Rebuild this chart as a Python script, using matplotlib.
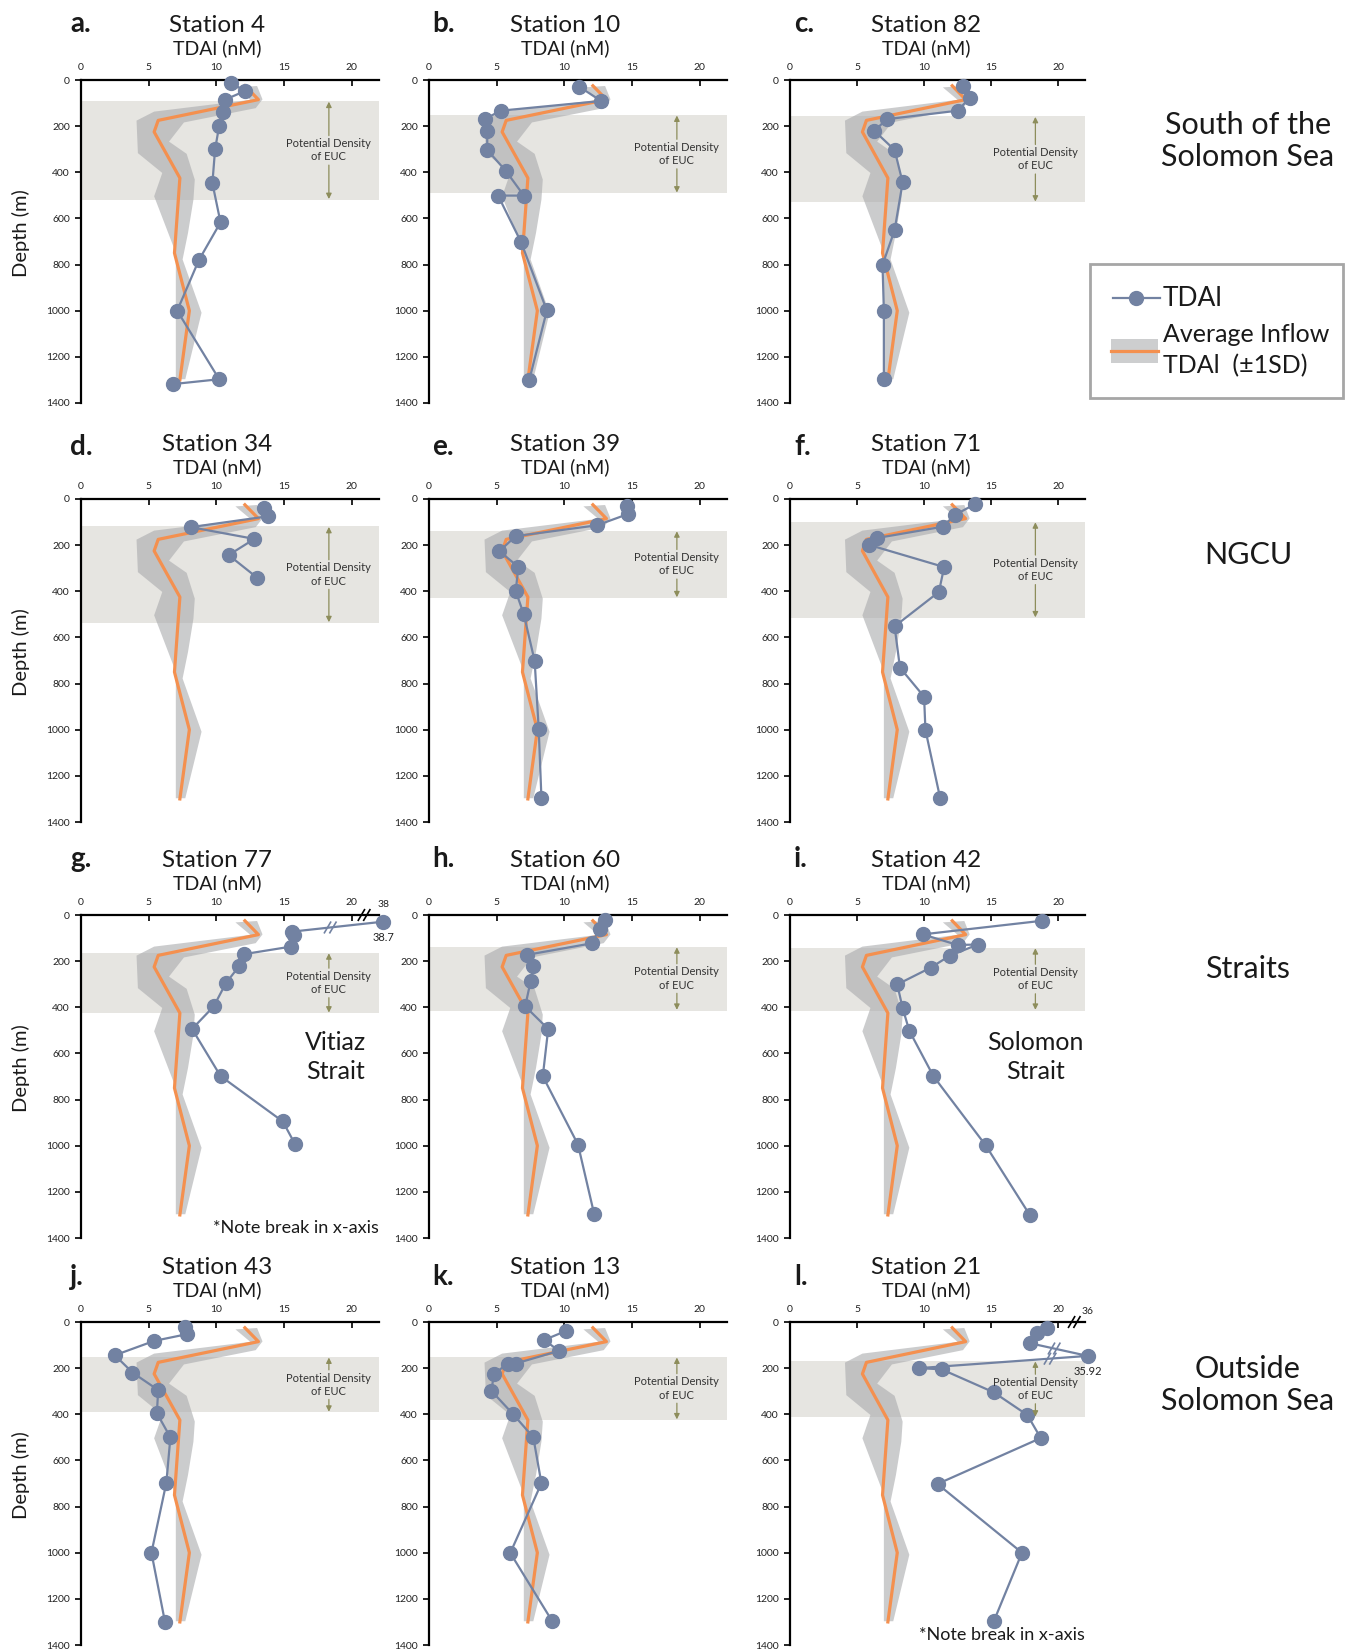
import numpy as np
import matplotlib
matplotlib.use("Agg")
import matplotlib.pyplot as plt
from matplotlib.patches import Rectangle

plt.rcParams['font.family'] = ['Lato', 'DejaVu Sans']

# average inflow TDAl (same in every panel) and its +/-1SD envelope edges
avg_depth = [25, 85, 175, 225, 425, 750, 1000, 1300]
avg_tdal = [12.1, 13.1, 5.7, 5.4, 7.3, 6.9, 8.0, 7.3]
sd_hi_depth = [26, 84, 122, 184, 267, 320, 432, 519, 663, 778, 1009, 1153, 1297]
sd_hi_tdal = [13.0, 13.4, 12.9, 7.6, 6.5, 7.8, 8.4, 8.3, 7.9, 7.5, 8.9, 8.3, 7.7]
sd_lo_depth = [32, 86, 137, 176, 317, 403, 504, 749, 1009, 1297]
sd_lo_tdal = [11.4, 12.5, 5.4, 4.1, 4.2, 6.0, 5.4, 7.0, 7.0, 7.0]

# station profiles (depth m, TDAl nM)
st4_depth = [12, 48, 86, 140, 199, 300, 447, 617, 781, 1000, 1297, 1318]
st4_tdal = [11.1, 12.1, 10.6, 10.5, 10.2, 9.9, 9.7, 10.3, 8.7, 7.1, 10.2, 6.8]
st10_depth = [29, 91, 133, 170, 220, 303, 396, 501, 501, 703, 999, 1301]
st10_tdal = [11.1, 12.7, 5.3, 4.1, 4.3, 4.3, 5.7, 7.0, 5.1, 6.8, 8.7, 7.4]
st82_depth = [25, 78, 133, 170, 221, 303, 444, 651, 801, 1000, 1294]
st82_tdal = [12.9, 13.4, 12.5, 7.2, 6.3, 7.8, 8.4, 7.8, 6.9, 7.0, 7.0]
st34_depth = [39, 75, 122, 173, 243, 341]
st34_tdal = [13.5, 13.8, 8.1, 12.8, 10.9, 13.0]
st39_depth = [29, 65, 114, 161, 226, 295, 399, 500, 702, 997, 1296]
st39_tdal = [14.6, 14.7, 12.4, 6.4, 5.2, 6.6, 6.4, 7.0, 7.8, 8.1, 8.3]
st71_depth = [22, 69, 120, 169, 199, 295, 403, 552, 731, 857, 1001, 1297]
st71_tdal = [13.8, 12.3, 11.4, 6.5, 5.9, 11.5, 11.1, 7.8, 8.2, 10.0, 10.1, 11.2]
st77_depth = [29, 72, 86, 137, 170, 220, 295, 396, 494, 698, 895, 993]
st77_tdal = [38.7, 15.6, 15.7, 15.5, 12.0, 11.7, 10.7, 9.8, 8.2, 10.3, 14.9, 15.8]
st60_depth = [22, 61, 123, 173, 219, 288, 396, 494, 699, 995, 1298]
st60_tdal = [13.0, 12.6, 12.0, 7.2, 7.7, 7.5, 7.1, 8.8, 8.4, 11.0, 12.2]
st42_depth = [25, 84, 130, 128, 177, 228, 301, 404, 502, 699, 999, 1302]
st42_tdal = [18.8, 9.9, 12.5, 14.0, 11.9, 10.5, 8.0, 8.4, 8.9, 10.7, 14.6, 17.9]
st43_depth = [22, 53, 82, 144, 219, 295, 395, 500, 697, 1000, 1300]
st43_tdal = [7.7, 7.8, 5.4, 2.5, 3.8, 5.7, 5.6, 6.6, 6.3, 5.2, 6.2]
st13_depth = [39, 78, 125, 180, 180, 226, 298, 399, 500, 699, 1001, 1297]
st13_tdal = [10.1, 8.5, 9.6, 6.4, 5.8, 4.8, 4.6, 6.2, 7.7, 8.3, 6.0, 9.1]
st21_depth = [27, 49, 92, 147, 200, 205, 305, 403, 503, 702, 1000, 1297]
st21_tdal = [19.2, 18.4, 17.9, 35.92, 9.6, 11.3, 15.2, 17.7, 18.7, 11.0, 17.3, 15.2]

letters = ['a.', 'b.', 'c.', 'd.', 'e.', 'f.', 'g.', 'h.', 'i.', 'j.', 'k.', 'l.']
stations = ['Station 4', 'Station 10', 'Station 82', 'Station 34', 'Station 39', 'Station 71',
            'Station 77', 'Station 60', 'Station 42', 'Station 43', 'Station 13', 'Station 21']
profiles = [(st4_depth, st4_tdal), (st10_depth, st10_tdal), (st82_depth, st82_tdal),
            (st34_depth, st34_tdal), (st39_depth, st39_tdal), (st71_depth, st71_tdal),
            (st77_depth, st77_tdal), (st60_depth, st60_tdal), (st42_depth, st42_tdal),
            (st43_depth, st43_tdal), (st13_depth, st13_tdal), (st21_depth, st21_tdal)]
# potential density range of the EUC (top, bottom depth) per panel
euc_top = [91, 151, 157, 118, 137, 98, 163, 137, 141, 151, 151, 168]
euc_bot = [519, 491, 530, 537, 429, 516, 426, 414, 414, 392, 425, 413]
regions = ['South of the\nSolomon Sea', 'NGCU', 'Straits', 'Outside\nSolomon Sea']

blue = '#7282a2'
orange = '#f4904f'
olive = '#8d8d5b'
band_c = '#e6e5e1'

W, H = 1348, 1651
fig = plt.figure(figsize=(W / 100, H / 100), dpi=100)

# overlay in pixel units for free text and the legend
ov = fig.add_axes([0, 0, 1, 1])
ov.set_xlim(0, W)
ov.set_ylim(H, 0)
ov.axis('off')

col_left = [81, 429, 790]
col_width = [298, 298, 295]
row_top = [80, 499, 915, 1322]
ax_h = 323
letter_off = [48, 44, 48, 37]
letter_x = [70, 432, 794]


def break_mark(ax, x, d, color, lw):
    # two short slanted strokes like "//"
    for dx in (-0.2, 0.2):
        ax.plot([x + dx - 0.26, x + dx + 0.26], [d + 26, d - 26], color=color, lw=lw,
                clip_on=False, zorder=5, solid_capstyle='butt')


for i in range(12):
    r, c = divmod(i, 3)
    left, top, w = col_left[c], row_top[r], col_width[c]
    ax = fig.add_axes([left / W, 1 - (top + ax_h) / H, w / W, ax_h / H])
    ax.set_xlim(0, 22)
    ax.set_ylim(1400, 0)
    ax.patch.set_alpha(0)

    ax.axhspan(euc_top[i], euc_bot[i], color=band_c, lw=0, zorder=0)
    ax.fill(sd_hi_tdal + sd_lo_tdal[::-1], sd_hi_depth + sd_lo_depth[::-1],
            color='#a9aaad', alpha=0.6, lw=0, zorder=1)
    ax.plot(avg_tdal, avg_depth, color=orange, lw=2.3, zorder=2)

    depth, tdal = profiles[i]
    brk = 22.3 if i == 6 else 22.2
    xs = [v if v < 22 else brk for v in tdal]
    ax.plot(xs, depth, '-o', color=blue, lw=1.6, ms=10, clip_on=False, zorder=3)

    # EUC arrows and label
    mid = (euc_top[i] + euc_bot[i]) / 2
    ax_x = 18.3
    ap = dict(arrowstyle='-|>', color=olive, lw=0.9, shrinkA=0, shrinkB=0, mutation_scale=8)
    ax.annotate('', xy=(ax_x, euc_top[i] + 3), xytext=(ax_x, mid - 64), arrowprops=ap)
    ax.annotate('', xy=(ax_x, euc_bot[i] - 3), xytext=(ax_x, mid + 64), arrowprops=ap)
    ax.text(ax_x, mid, 'Potential Density\nof EUC', ha='center', va='center',
            fontsize=8, color='#333333', linespacing=1.25)

    for s in ['right', 'bottom']:
        ax.spines[s].set_visible(False)
    for s in ['top', 'left']:
        ax.spines[s].set_linewidth(1.6)
    ax.xaxis.tick_top()
    ax.set_xticks([0, 5, 10, 15, 20])
    ax.set_yticks(np.arange(0, 1401, 200))
    ax.tick_params(axis='x', direction='in', length=4, width=1.2, pad=6,
                   labelsize=7.5, labelcolor='#222222')
    ax.tick_params(axis='y', direction='out', length=4, width=1.2, pad=4,
                   labelsize=7.5, labelcolor='#222222')

    # titles, letters
    ov.text(left + 136, top - 48, stations[i], ha='center', va='baseline', fontsize=17.5,
            color='#1a1a1a')
    ov.text(left + 136, top - 26, 'TDAl (nM)', ha='center', va='baseline', fontsize=14,
            color='#1a1a1a')
    ov.text(letter_x[c], top - letter_off[r], letters[i], ha='left', va='baseline',
            fontsize=20, fontweight='bold', color='#1a1a1a')
    if c == 0:
        ov.text(21, top + 153, 'Depth (m)', rotation=90, ha='center', va='center',
                fontsize=14.5, color='#1a1a1a')

    if i in (6, 11):
        # broken x-axis
        axis_brk = 20.9 if i == 6 else 21.2
        break_mark(ax, axis_brk, 0, 'black', 1.2)
        ax.text(brk, -28, '38' if i == 6 else '36', ha='center', va='bottom',
                fontsize=7.5, color='#222222', clip_on=False)
        j = tdal.index(max(tdal))
        ax.text(brk, depth[j] + 45, '38.7' if i == 6 else '35.92', ha='center', va='top',
                fontsize=8, color='#222222')
        # break marks on the data line
        if i == 6:
            marks = [(j, 18.4)]
        else:
            marks = [(j - 1, 19.7), (j, 19.4)]
        for k, mx in marks:
            x0, x1 = xs[k], xs[k + 1]
            t = (mx - x0) / (x1 - x0)
            md = depth[k] + t * (depth[k + 1] - depth[k])
            break_mark(ax, mx, md, blue, 1.2)
        ax.text(22, 1380, '*Note break in x-axis', ha='right', va='baseline',
                fontsize=13, color='#1a1a1a')

    if i == 6:
        ax.text(18.8, 615, 'Vitiaz\nStrait', ha='center', va='center', fontsize=18,
                color='#1a1a1a', linespacing=1.3)
    if i == 8:
        ax.text(18.3, 615, 'Solomon\nStrait', ha='center', va='center', fontsize=18,
                color='#1a1a1a', linespacing=1.3)

# region labels
for y, lab in zip([141, 555, 969, 1385], regions):
    ov.text(1248, y, lab, ha='center', va='center', fontsize=22, color='#1a1a1a',
            linespacing=1.2)

# legend box
ov.add_patch(Rectangle((1090, 264), 253, 134, fill=False, edgecolor='#a6a6a6', lw=2))
ov.plot([1113, 1160], [298, 298], color=blue, lw=1.6)
ov.plot([1136], [298], 'o', color=blue, ms=10)
ov.text(1163, 298, 'TDAl', ha='left', va='center', fontsize=19, color='#1a1a1a')
ov.add_patch(Rectangle((1111, 339), 47, 24, color='#cdcecf', lw=0))
ov.plot([1111, 1158], [351, 351], color=orange, lw=2.3)
ov.text(1163, 334, 'Average Inflow', ha='left', va='center', fontsize=18, color='#1a1a1a')
ov.text(1163, 366, 'TDAl  (±1SD)', ha='left', va='center', fontsize=18, color='#1a1a1a')

fig.savefig('out.png', dpi=100)
